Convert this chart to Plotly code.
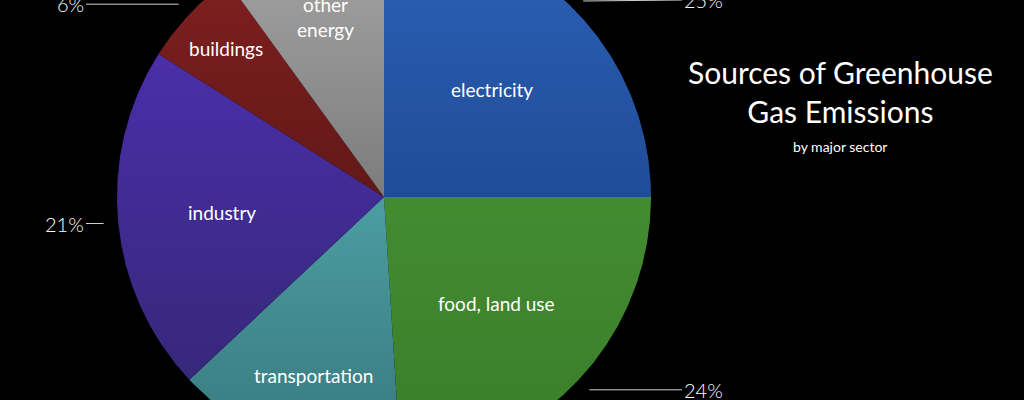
import numpy as np
import plotly.graph_objects as go

# Sector shares of greenhouse gas emissions (percent), clockwise from 12 o'clock
sectors = ["electricity", "food, land use", "transportation", "industry", "buildings", "other<br>energy"]
shares = [25, 24, 14, 21, 6, 10]
pct_labels = ["25%", "24%", "14%", "21%", "6%", "10%"]

# Slice colours: (darker bottom, lighter top) for the vertical shading
top_colors = ["#2c62b8", "#438c30", "#4c9da2", "#4b2ea9", "#7e1f1f", "#a6a6a6"]
bottom_colors = ["#1f4c96", "#3a7c2a", "#36777b", "#36287a", "#621818", "#7c7c7c"]

# Where each slice name sits, as a fraction of the radius
label_radius = [0.57, 0.58, 0.72, 0.61, 0.81, 0.71]

W, H = 1024, 400
R_PX = 267          # pie radius in pixels
CX, CY = 384, 197   # pie centre in pixels (from top-left)

x_range = [-CX / R_PX, (W - CX) / R_PX]
y_range = [-(H - CY) / R_PX, CY / R_PX]


def to_paper(x, y):
    # data units -> paper fraction (lets labels sit partly outside the plot)
    return ((x - x_range[0]) / (x_range[1] - x_range[0]),
            (y - y_range[0]) / (y_range[1] - y_range[0]))


fig = go.Figure()

fractions = np.array(shares, dtype=float) / sum(shares)
ends = np.cumsum(fractions) * 2 * np.pi
starts = ends - fractions * 2 * np.pi

for i, name in enumerate(sectors):
    theta = np.linspace(starts[i], ends[i], 200)
    xs = np.concatenate([[0.0], np.sin(theta), [0.0]])
    ys = np.concatenate([[0.0], np.cos(theta), [0.0]])
    fig.add_trace(go.Scatter(
        x=xs, y=ys, mode="lines", fill="toself",
        line=dict(width=0, color=top_colors[i]),
        fillgradient=dict(
            type="vertical",
            colorscale=[[0, bottom_colors[i]], [1, top_colors[i]]],
            start=float(ys.min()), stop=float(ys.max()),
        ),
        hoverinfo="skip", showlegend=False,
    ))

    # slice name inside the wedge
    mid = (starts[i] + ends[i]) / 2
    rl = label_radius[i]
    lx, ly = to_paper(rl * np.sin(mid), rl * np.cos(mid))
    fig.add_annotation(
        x=lx, y=ly, xref="paper", yref="paper",
        xanchor="center", yanchor="middle",
        text=name, showarrow=False,
        font=dict(family="Lato", size=19, color="white"),
    )

    # percentage outside the pie, joined by a horizontal leader line;
    # only the ones whose leader falls inside the canvas are drawn
    lead_r = 1.055
    dx, dy = lead_r * np.sin(mid), lead_r * np.cos(mid)
    if not (y_range[0] - 0.02 <= dy <= y_range[1] + 0.02):
        continue
    side = 1 if np.sin(mid) >= 0 else -1
    tx = side * 1.116
    px, py = to_paper(dx, dy)
    fig.add_annotation(
        x=px, y=py, xref="paper", yref="paper",
        ax=(tx - dx) * R_PX, ay=0, axref="pixel", ayref="pixel",
        text=pct_labels[i], showarrow=True, arrowhead=0, arrowwidth=1,
        arrowcolor="#cfcfcf", standoff=0,
        xanchor="left" if side > 0 else "right", yanchor="middle",
        font=dict(family="Lato", size=20, color="white", weight=300),
    )

# Title block
fig.add_annotation(
    x=840 / W, y=1 - 91 / H, xref="paper", yref="paper",
    xanchor="center", yanchor="middle",
    text="Sources of Greenhouse<br>Gas Emissions", showarrow=False,
    font=dict(family="Lato", size=30, color="white"), align="center",
)
fig.add_annotation(
    x=840 / W, y=1 - 146 / H, xref="paper", yref="paper",
    xanchor="center", yanchor="middle",
    text="by major sector", showarrow=False,
    font=dict(family="Lato", size=14, color="white"),
)

fig.update_xaxes(range=x_range, visible=False, fixedrange=True)
fig.update_yaxes(range=y_range, visible=False, fixedrange=True)
fig.update_layout(
    width=W, height=H, margin=dict(l=0, r=0, t=0, b=0),
    paper_bgcolor="black", plot_bgcolor="black",
)

fig.write_html("out.html", config={"displayModeBar": False})
